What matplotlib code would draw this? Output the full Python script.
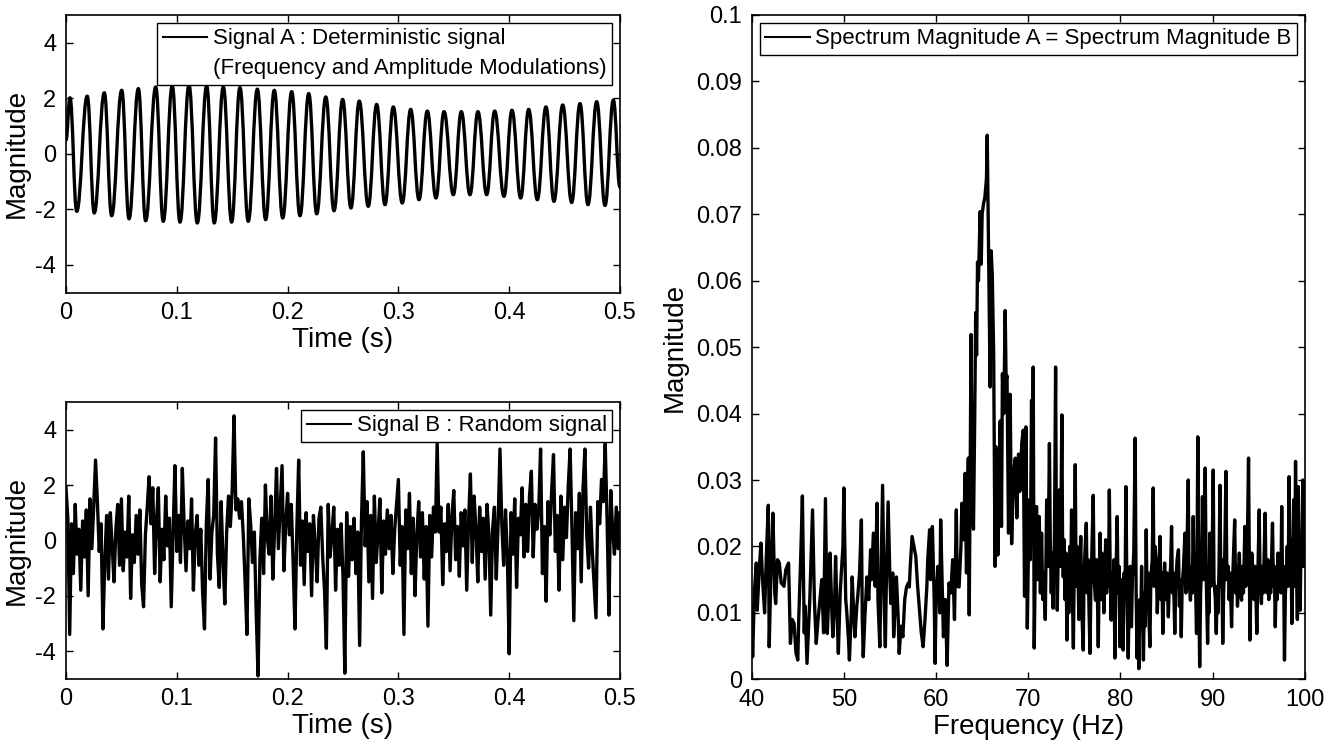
import numpy as np
import matplotlib
matplotlib.use("Agg")
import matplotlib.pyplot as plt
from matplotlib.lines import Line2D
from matplotlib.path import Path
from matplotlib.patches import PathPatch
from matplotlib.ticker import FuncFormatter

plt.rcParams['font.family'] = ['Liberation Sans', 'DejaVu Sans']
plt.rcParams['axes.unicode_minus'] = False

# Signal A: crests and troughs (time in s)
a_peak_t = [0.0036, 0.0192, 0.0346, 0.0503, 0.0653, 0.0810, 0.0959, 0.1110, 0.1270,
            0.1420, 0.1570, 0.1727, 0.1880, 0.2037, 0.2191, 0.2345, 0.2497, 0.2647,
            0.2804, 0.2954, 0.3111, 0.3261, 0.3412, 0.3568, 0.3718, 0.3869, 0.4025,
            0.4176, 0.4332, 0.4483, 0.4639, 0.4790, 0.4940]
a_peak_v = [2.02, 2.08, 2.20, 2.29, 2.35, 2.41, 2.45, 2.48, 2.45, 2.41, 2.39, 2.33,
            2.29, 2.24, 2.17, 2.05, 1.96, 1.90, 1.78, 1.69, 1.60, 1.54, 1.52, 1.52,
            1.52, 1.54, 1.57, 1.60, 1.69, 1.76, 1.81, 1.88, 1.94]
a_trough_t = [0.0097, 0.0255, 0.0412, 0.0569, 0.0719, 0.0878, 0.1029, 0.1185, 0.1338,
              0.1495, 0.1645, 0.1802, 0.1956, 0.2112, 0.2263, 0.2419, 0.2572, 0.2728,
              0.2879, 0.3035, 0.3186, 0.3339, 0.3496, 0.3646, 0.3797, 0.3953, 0.4104,
              0.4254, 0.4404, 0.4564, 0.4711, 0.4865]
a_trough_v = [-2.07, -2.13, -2.23, -2.34, -2.41, -2.43, -2.46, -2.49, -2.49, -2.46,
              -2.43, -2.37, -2.31, -2.23, -2.16, -2.05, -1.95, -1.89, -1.83, -1.77,
              -1.65, -1.59, -1.47, -1.47, -1.47, -1.53, -1.59, -1.65, -1.71, -1.75,
              -1.83, -1.86]
a_ends_t = [0.0, 0.5]
a_ends_v = [0.5, -1.2]

# Signal B: random signal, one reading every 1/600 s
b_vals = [1.9, 0.8, -3.4, 0.6, -1.2, 1.3, -0.5, 0.4, -1.8, 0.7,
          -0.6, 1.1, -2.0, 1.5, -0.3, 1.2, 2.9, 1.4, -0.4, 0.6,
          -3.2, -0.8, 0.9, -1.4, 1.0, -0.2, -1.5, 0.4, 1.3, -0.9,
          1.5, -1.1, 0.3, -0.6, 1.6, -2.1, 0.2, -0.8, 0.9, -0.5,
          1.1, -1.6, -2.4, 0.2, 1.2, 2.3, 0.6, 1.9, -1.2, 0.7,
          1.9, -1.5, 0.4, -0.7, 1.6, -0.2, 0.8, -2.4, 0.3, 2.7,
          -0.4, 0.9, -0.8, 2.6, 0.5, -1.1, 0.7, -0.3, 1.5, -1.8,
          0.2, 0.9, -0.9, 0.4, -1.9, -3.2, 0.6, 2.2, -1.4, 0.3,
          0.9, 3.7, -0.5, -1.7, 1.4, -0.6, -2.3, 0.3, 1.6, 0.5,
          1.8, 4.5, 1.1, 1.5, 0.8, 1.4, 0.2, -1.5, -3.4, 1.5,
          0.6, -0.8, 0.3, -2.6, -4.9, -0.7, 0.8, -1.2, 2.0, 0.1,
          -0.5, 1.6, -1.4, 0.5, 2.6, -0.3, 1.2, 2.7, -1.1, 0.6,
          1.7, 0.2, 1.3, -0.8, -3.2, 0.4, 2.9, -0.9, 0.7, -1.6,
          1.0, -0.4, 0.6, -2.0, 0.9, -0.2, -1.5, 0.8, 1.2, -0.6,
          -1.8, -3.9, 1.3, -0.6, 0.2, 1.2, -1.8, 0.4, -0.9, 0.6,
          -1.3, -4.8, 1.0, -1.3, 0.5, -0.7, 0.8, -1.2, 0.3, -3.8,
          0.7, 3.2, -0.2, 1.4, -1.5, 0.9, -2.1, 1.6, -0.8, 0.3,
          1.5, -1.9, 0.7, -0.5, 1.1, -0.3, 0.9, -1.2, 0.4, 1.3,
          2.2, -0.9, 0.5, -3.4, 1.1, -0.3, 1.7, -1.2, 0.8, -2.0,
          0.2, 1.4, -0.6, 1.0, -1.4, 0.5, -3.1, 0.9, -0.6, 1.2,
          0.3, 3.5, 0.3, 1.2, -1.6, 0.6, -0.4, 1.3, -1.1, 0.9,
          1.8, -0.7, 0.5, -1.3, 1.0, -0.2, 1.1, -1.8, 0.7, 2.4,
          -0.8, 1.6, 0.4, -1.5, 1.2, -0.4, 0.8, -1.4, 1.3, 0.2,
          -2.7, 0.4, 1.2, -1.4, 0.6, 3.3, 0.6, -0.9, 1.1, -0.5,
          -4.1, 1.0, -0.5, 1.5, -1.7, 0.8, 0.2, 1.9, -0.6, 1.3,
          -0.4, 1.6, 2.5, -0.6, 1.3, 0.4, 1.1, 3.3, -1.2, 0.5,
          -2.2, 1.4, 0.2, 1.8, 3.1, -0.4, 0.9, -1.8, 1.6, -0.7,
          1.2, 0.1, 2.0, 3.3, 0.4, -2.9, 1.0, -0.3, 1.7, -1.5,
          1.9, 3.3, 0.2, -1.0, 1.2, -0.4, -1.6, -2.8, 1.4, 0.6,
          2.2, 1.4, 3.5, 0.8, -2.7, 1.8, 0.4, -0.5, 1.2, -0.3,
          1.0]
b_t = np.linspace(0, 0.5, len(b_vals))

# Spectrum magnitude (same for A and B), 40-70 Hz: frequency in Hz, magnitude in 1e-3
spec_f = [40.0, 40.1, 40.3, 40.5, 40.6, 40.8, 41.0, 41.2, 41.4, 41.6, 41.8, 41.9, 42.1, 42.3,
          42.5, 42.6, 42.8, 43.0, 43.2, 43.5, 43.7, 44.0, 44.2, 44.4, 44.6, 44.8, 45.0, 45.1,
          45.3, 45.5, 45.7, 45.8, 46.0, 46.2, 46.3, 46.6, 46.8, 47.0, 47.2, 47.3, 47.6, 47.8,
          48.0, 48.2, 48.4, 48.5, 48.7, 48.8, 49.0, 49.1, 49.3, 49.4, 49.6, 49.7, 49.9, 50.0,
          50.2, 50.3, 50.5, 50.6, 50.8, 50.9, 51.1, 51.2, 51.4, 51.5, 51.7, 51.9, 52.0, 52.1,
          52.3, 52.5, 52.7, 52.9, 53.0, 53.2, 53.4, 53.6, 53.7, 53.9, 54.0, 54.2, 54.4, 54.5,
          54.6, 54.8, 55.0, 55.1, 55.3, 55.4, 55.6, 55.7, 55.9, 56.0, 56.2, 56.4, 56.6, 56.8,
          57.0, 57.1, 57.2, 57.4, 57.6, 57.8, 58.0, 58.2, 58.4, 58.6, 58.8, 59.0, 59.1, 59.3,
          59.4, 59.6, 59.8, 59.9, 60.0, 60.2, 60.4, 60.5, 60.7, 60.8, 61.0, 61.2, 61.4, 61.6,
          61.8, 62.0, 62.2, 62.3, 62.5, 62.7, 62.8, 63.0, 63.15, 63.3, 63.5, 63.6, 63.8, 63.9,
          64.06, 64.2, 64.3, 64.4, 64.5, 64.6, 64.78, 64.9, 65.0, 65.14, 65.3, 65.47, 65.55,
          65.65, 65.76, 65.87, 65.98, 66.1, 66.25, 66.4, 66.5, 66.6, 66.7, 66.85, 66.96, 67.1,
          67.2, 67.35, 67.5, 67.6, 67.7, 67.86, 68.04, 68.2, 68.4, 68.6, 68.76, 68.95, 69.1,
          69.3, 69.46, 69.6, 69.75, 69.9]
spec_mag = [11, 3.4, 13.4, 17.5, 10.4, 16, 20.5, 14.5, 10, 19, 26.2, 4.9, 17, 25,
            13, 11.4, 18, 17.5, 14.5, 14, 16.5, 17.5, 5.4, 9, 8.4, 4, 2.9, 9,
            17.5, 27.6, 7, 11, 2.4, 9, 12, 25.5, 12, 5.4, 9, 10.4, 15, 7,
            27.2, 6.9, 14, 19, 10, 6.4, 12, 18.5, 8, 3.9, 13, 15.5, 20, 28.8,
            12, 10.4, 6, 2.9, 10, 15.4, 9, 6.4, 11, 12.4, 16, 24, 9, 3.4,
            10, 15.4, 12, 19.5, 15, 22, 14, 26.5, 12, 4.9, 13, 29.2, 10, 4.9,
            14, 26.7, 15, 11.4, 16, 6.4, 12, 15.4, 9, 3.9, 8, 6.4, 12, 13.9,
            14.5, 13.9, 17, 21.5, 20, 18.5, 14, 10.4, 7, 4.9, 9, 13.9, 18, 22.5,
            15, 23, 12, 2.4, 12, 17, 10, 24, 12, 6.4, 12, 2.1, 14.5, 13,
            18, 9, 25.5, 14, 13.9, 20, 26.5, 21, 31, 16, 33.3, 9.7, 51.9, 29,
            22.6, 40, 55.2, 48.8, 62.8, 60, 70.4, 62.5, 70, 71.5, 72.6, 75.4, 81.9,
            70, 58, 44, 64.5, 60.8, 49, 17, 35, 31, 18.7, 30, 38.9, 23,
            46, 40, 55.5, 45, 45.7, 22, 42.9, 20.4, 31, 33.3, 24.3, 33.9, 28.3,
            35.6, 37.5, 12.5, 38, 7.7]

# 70-100 Hz as (frequency, magnitude 1e-3) readings
spec_high = [
    (70.1, 27), (70.23, 18), (70.36, 42), (70.45, 25), (70.54, 47), (70.65, 4.7),
    (70.78, 19), (70.9, 26), (71.05, 15), (71.2, 24.5), (71.32, 13), (71.45, 22),
    (71.58, 12), (71.7, 16), (71.85, 9), (72.0, 27), (72.15, 17), (72.3, 35.5),
    (72.4, 20), (72.5, 13), (72.6, 19), (72.7, 10.7), (72.85, 22), (72.97, 47),
    (73.06, 20), (73.15, 10.4), (73.25, 19), (73.36, 28.5), (73.5, 17), (73.65, 39.8),
    (73.72, 22), (73.8, 15.4), (73.9, 21), (74.0, 12), (74.1, 19), (74.2, 5.9),
    (74.3, 17), (74.4, 10), (74.5, 20), (74.6, 13), (74.7, 25.5), (74.8, 12),
    (74.9, 4.7), (75.0, 18), (75.1, 32.3), (75.2, 14), (75.3, 20), (75.4, 15.4),
    (75.5, 9), (75.6, 17), (75.7, 21.5), (75.8, 11), (75.97, 4.4), (76.05, 15),
    (76.15, 19), (76.3, 23.5), (76.4, 13), (76.5, 18), (76.6, 10), (76.7, 3.9),
    (76.8, 14), (76.9, 19), (77.05, 27.7), (77.15, 15), (77.3, 11.9), (77.4, 18),
    (77.5, 13), (77.6, 4.9), (77.7, 16), (77.8, 22), (77.9, 12), (78.0, 19),
    (78.1, 17.5), (78.2, 10), (78.3, 15), (78.4, 21), (78.5, 13), (78.6, 20),
    (78.7, 14), (78.8, 28.5), (78.9, 15), (79.0, 8.9), (79.1, 16), (79.2, 12),
    (79.3, 18), (79.4, 3.2), (79.5, 14), (79.65, 24.5), (79.75, 13), (79.85, 17),
    (79.95, 4.9), (80.05, 15), (80.15, 11), (80.3, 4.4), (80.4, 16), (80.5, 12),
    (80.6, 29), (80.7, 14), (80.85, 3.2), (80.95, 12), (81.05, 17), (81.2, 7.9),
    (81.3, 15), (81.45, 19), (81.6, 36.3), (81.7, 14), (81.8, 3.2), (81.9, 10),
    (82.0, 1.6), (82.1, 12), (82.2, 8), (82.3, 17), (82.4, 9), (82.5, 2.9),
    (82.6, 13), (82.7, 8), (82.8, 22.5), (82.9, 11), (83.0, 16), (83.1, 9),
    (83.2, 4.9), (83.3, 15), (83.45, 18), (83.56, 28.8), (83.65, 14), (83.75, 20),
    (83.9, 17), (84.0, 10), (84.15, 16), (84.3, 21.5), (84.4, 12), (84.5, 16),
    (84.6, 6.9), (84.7, 13), (84.8, 17.5), (84.9, 12), (85.05, 16), (85.2, 9.4),
    (85.3, 14), (85.45, 17), (85.55, 23), (85.65, 13), (85.75, 16), (85.9, 6.9),
    (86.0, 14), (86.15, 18), (86.3, 19.5), (86.4, 11), (86.5, 15), (86.6, 6.4),
    (86.7, 14), (86.85, 17), (87.0, 22), (87.1, 13), (87.2, 18), (87.36, 30),
    (87.45, 15), (87.6, 11.9), (87.7, 17), (87.8, 13), (87.9, 24.5), (88.0, 14),
    (88.1, 18), (88.26, 6.9), (88.4, 36.5), (88.5, 14), (88.6, 1.9), (88.7, 13),
    (88.8, 17), (88.9, 27.5), (89.0, 15), (89.1, 20), (89.2, 31.8), (89.3, 16),
    (89.46, 5.4), (89.55, 14), (89.6, 10), (89.7, 22), (89.8, 14), (89.95, 18),
    (90.07, 31.5), (90.15, 15), (90.3, 12), (90.4, 6.9), (90.5, 14), (90.6, 10),
    (90.7, 17), (90.8, 29.2), (90.9, 14), (91.0, 18), (91.1, 5.4), (91.2, 13),
    (91.3, 17), (91.45, 31.3), (91.55, 15), (91.7, 17), (91.8, 12), (91.9, 16),
    (92.06, 7.9), (92.15, 14), (92.25, 18), (92.4, 24), (92.5, 13), (92.6, 17),
    (92.7, 11), (92.8, 14.4), (92.9, 19), (93.0, 13), (93.15, 11.9), (93.25, 17),
    (93.35, 13), (93.5, 23), (93.6, 14), (93.75, 18), (93.9, 33.3), (94.05, 5.9),
    (94.15, 14), (94.25, 19), (94.4, 16), (94.5, 12), (94.6, 17), (94.7, 13),
    (94.8, 6.9), (94.9, 15), (95.06, 25.5), (95.15, 15), (95.3, 11.4), (95.4, 17),
    (95.5, 13), (95.6, 19), (95.7, 25), (95.8, 15), (95.9, 13), (96.0, 18),
    (96.1, 12), (96.2, 16.5), (96.3, 13), (96.4, 18), (96.5, 23.5), (96.6, 14),
    (96.7, 17), (96.8, 7.9), (96.9, 15), (97.0, 12), (97.1, 19), (97.2, 14),
    (97.3, 17), (97.4, 13), (97.5, 26), (97.6, 14), (97.7, 17), (97.8, 2.9),
    (97.9, 13), (98.0, 15.4), (98.1, 20), (98.2, 14), (98.3, 30.5), (98.4, 17),
    (98.5, 21), (98.6, 8.4), (98.7, 16), (98.8, 27), (98.9, 14), (99.0, 32.8),
    (99.1, 18), (99.2, 9), (99.3, 29), (99.4, 19), (99.5, 10.4), (99.6, 21),
    (99.7, 17), (99.8, 30), (99.9, 17), (100.0, 22)]

hi_f, hi_m = zip(*spec_high)
all_f = np.concatenate([spec_f, hi_f])
all_m = np.concatenate([spec_mag, hi_m]) / 1000

# order signal A extremes by time
a_t = np.concatenate([a_ends_t, a_peak_t, a_trough_t])
a_v = np.concatenate([a_ends_v, a_peak_v, a_trough_v])
order = np.argsort(a_t)
a_t, a_v = a_t[order], a_v[order]

# smooth half-waves between extremes (cubic Bezier, flat at each extreme)
verts = [(a_t[0], a_v[0])]
codes = [Path.MOVETO]
for t0, v0, t1, v1 in zip(a_t[:-1], a_v[:-1], a_t[1:], a_v[1:]):
    d = t1 - t0
    verts += [(t0 + 0.42 * d, v0), (t1 - 0.42 * d, v1), (t1, v1)]
    codes += [Path.CURVE4] * 3
wave_a = Path(verts, codes)

fig = plt.figure(figsize=(13.44, 7.42), dpi=100)
ax_a = fig.add_axes([0.0491, 0.6055, 0.4122, 0.3743])
ax_b = fig.add_axes([0.0491, 0.0853, 0.4122, 0.3729])
ax_s = fig.add_axes([0.5593, 0.0845, 0.4115, 0.8953])

tick_fs = 17
label_fs = 20
line_w = 2.4
leg_kw = dict(fancybox=False, framealpha=1, edgecolor='black', fontsize=16,
              borderaxespad=0.35, borderpad=0.25, handlelength=2.0,
              handletextpad=0.25)
fmt_g = FuncFormatter(lambda v, p: f'{v:g}')


def style_axes(ax):
    ax.tick_params(direction='in', top=True, right=True, length=5,
                   labelsize=tick_fs, width=1, pad=7)
    for sp in ax.spines.values():
        sp.set_linewidth(1.2)
    ax.xaxis.set_major_formatter(fmt_g)
    ax.yaxis.set_major_formatter(fmt_g)


# Signal A
ax_a.add_patch(PathPatch(wave_a, fill=False, edgecolor='black', lw=line_w,
                         joinstyle='round', capstyle='round'))
ax_a.set_xlim(0, 0.5)
ax_a.set_ylim(-5, 5)
ax_a.set_xticks([0, 0.1, 0.2, 0.3, 0.4, 0.5])
ax_a.set_yticks([-4, -2, 0, 2, 4])
ax_a.set_xlabel('Time (s)', fontsize=label_fs, labelpad=2)
ax_a.set_ylabel('Magnitude', fontsize=label_fs, labelpad=4)
style_axes(ax_a)
handles_a = [Line2D([], [], color='black', lw=1.5), Line2D([], [], color='none')]
ax_a.legend(handles_a, ['Signal A : Deterministic signal',
                        '(Frequency and Amplitude Modulations)'],
            loc='upper right', labelspacing=0.4, **leg_kw)

# Signal B
ax_b.plot(b_t, b_vals, color='black', lw=line_w)
ax_b.set_xlim(0, 0.5)
ax_b.set_ylim(-5, 5)
ax_b.set_xticks([0, 0.1, 0.2, 0.3, 0.4, 0.5])
ax_b.set_yticks([-4, -2, 0, 2, 4])
ax_b.set_xlabel('Time (s)', fontsize=label_fs, labelpad=2)
ax_b.set_ylabel('Magnitude', fontsize=label_fs, labelpad=4)
style_axes(ax_b)
ax_b.legend([Line2D([], [], color='black', lw=1.5)], ['Signal B : Random signal'],
            loc='upper right', **leg_kw)

# Spectrum
ax_s.plot(all_f, all_m, color='black', lw=line_w)
ax_s.set_xlim(40, 100)
ax_s.set_ylim(0, 0.1)
ax_s.set_xticks([40, 50, 60, 70, 80, 90, 100])
ax_s.set_yticks(np.round(np.arange(0, 0.101, 0.01), 2))
ax_s.set_xlabel('Frequency (Hz)', fontsize=label_fs, labelpad=2)
ax_s.set_ylabel('Magnitude', fontsize=label_fs, labelpad=6)
style_axes(ax_s)
ax_s.legend([Line2D([], [], color='black', lw=1.5)],
            ['Spectrum Magnitude A = Spectrum Magnitude B'],
            loc='upper right', **leg_kw)

fig.savefig('out.png', dpi=100)
